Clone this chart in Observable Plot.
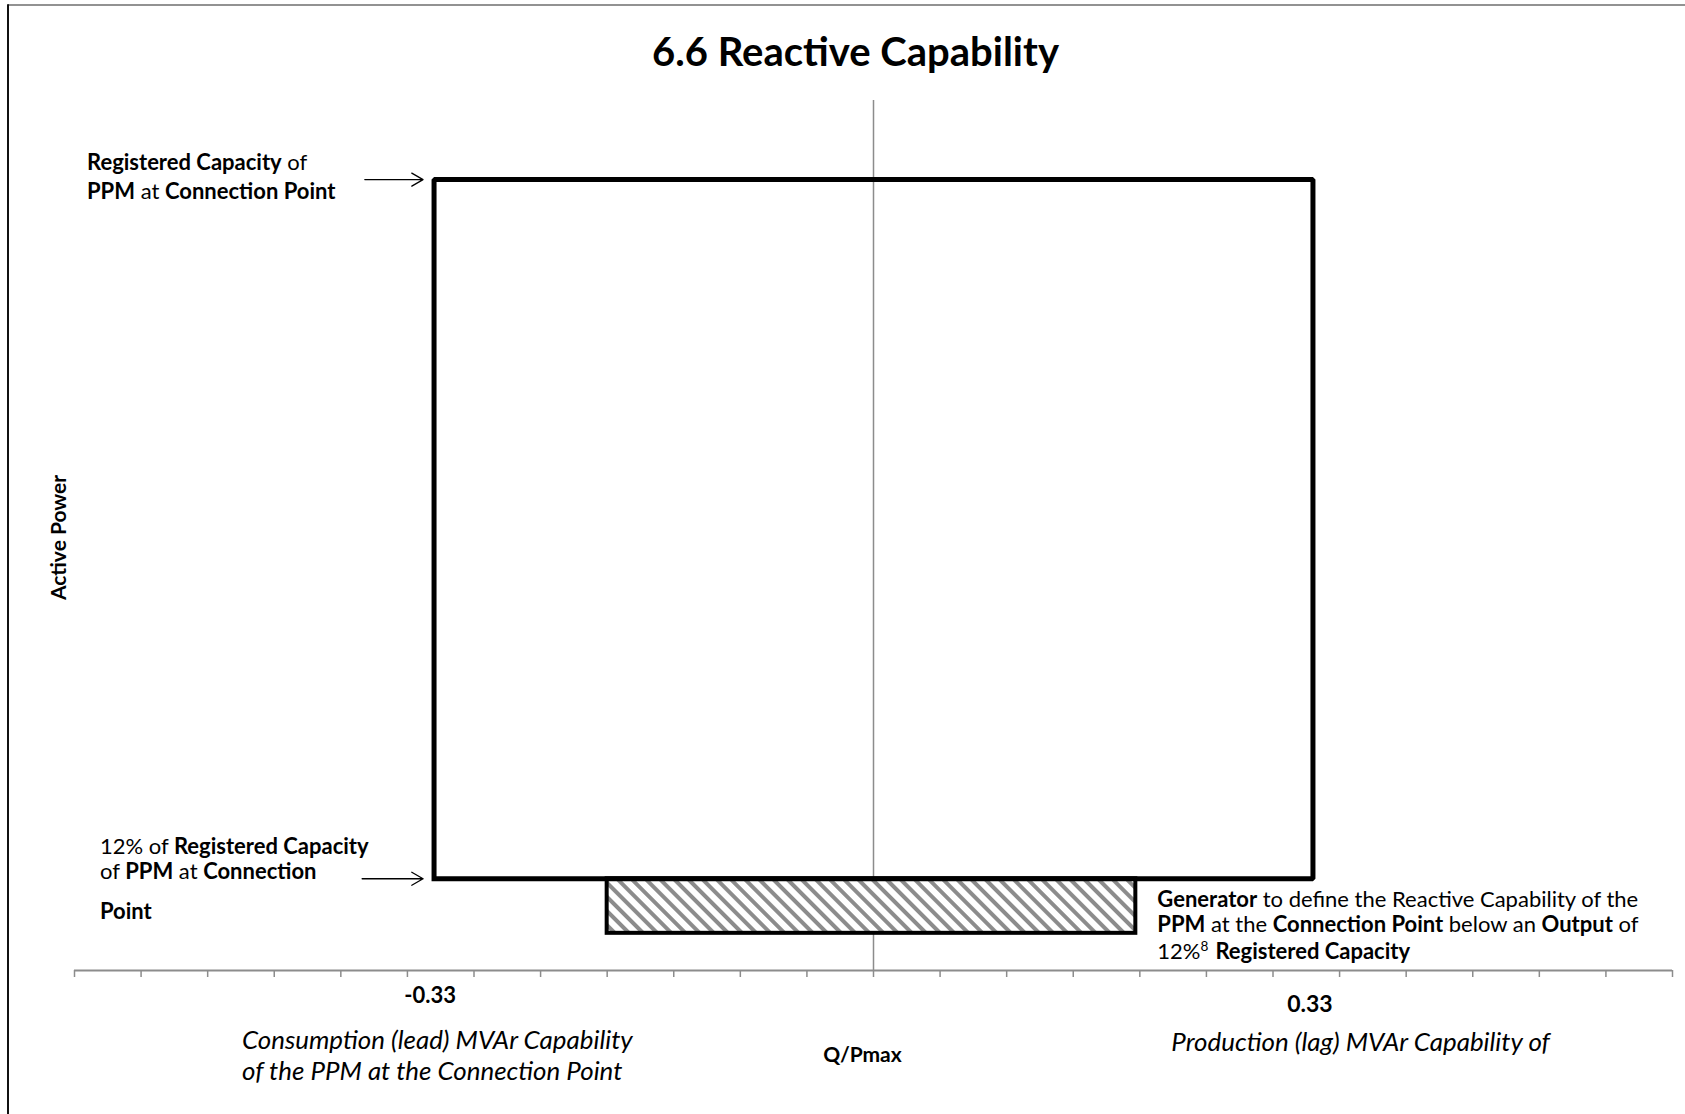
<!DOCTYPE html>
<html><head><meta charset="utf-8">
<script src="https://cdn.jsdelivr.net/npm/d3@7"></script>
<script src="https://cdn.jsdelivr.net/npm/@observablehq/plot@0.6"></script>
<style>body{margin:0;background:#fff;} svg{display:block}</style>
</head><body><div id="chart"></div>
<script>
const chartTitle = "6.6 Reactive Capability";
const xAxisTitle = "Q/Pmax";
const yAxisTitle = "Active Power";
const qDomain = [-0.6, 0.6];
const pDomain = [0, 1.1];
const qTicks = [-0.6,-0.55,-0.5,-0.45,-0.4,-0.35,-0.3,-0.25,-0.2,-0.15,-0.1,-0.05,0,0.05,0.1,0.15,0.2,0.25,0.3,0.35,0.4,0.45,0.5,0.55,0.6];
const envelopeQ = [-0.33, -0.33, 0.33, 0.33, -0.33];
const envelopeP = [0.116, 1.0, 1.0, 0.116, 0.116];
const hatchQ = [-0.2, 0.197];
const hatchP = [0.047, 0.116];
const limitQ = [-0.33, 0.33];
const limitLabels = ["-0.33", "0.33"];
const upperNote = ["**Registered Capacity** of", "**PPM** at **Connection Point**"];
const lowerNote = ["12% of **Registered Capacity**", "of **PPM** at **Connection**", "**Point**"];
const hatchNote = ["**Generator** to define the Reactive Capability of the", "**PPM** at the **Connection Point** below an **Output** of", "12%^8 **Registered Capacity**"];
const leadNote = ["Consumption (lead) MVAr Capability", "of the PPM at the Connection Point"];
const lagNote = ["Production (lag) MVAr Capability of"];

const FONT = "Lato, sans-serif";
const envelope = envelopeQ.map((q, i) => ({q, p: envelopeP[i]}));
const hatchRect = [{q1: hatchQ[0], q2: hatchQ[1], p1: hatchP[0], p2: hatchP[1]}];
const limits = limitQ.map((q, i) => ({q, label: limitLabels[i]}));

const plot = Plot.plot({
  width: 1685, height: 1114,
  marginTop: 100, marginBottom: 144, marginLeft: 74, marginRight: 13,
  style: {fontFamily: FONT, background: "#fff", color: "#000"},
  x: {domain: qDomain, label: null},
  y: {domain: pDomain, label: null, axis: null},
  marks: [
    Plot.ruleX([0], {stroke: "#8c8c8c", strokeWidth: 1.5}),
    Plot.rect(hatchRect, {x1: "q1", x2: "q2", y1: "p1", y2: "p2", fill: "url(#hatch)", stroke: "#000", strokeWidth: 4}),
    Plot.line(envelope, {x: "q", y: "p", stroke: "#000", strokeWidth: 5, strokeLinejoin: "miter", strokeLinecap: "square"}),
    Plot.ruleY([0], {stroke: "#8c8c8c", strokeWidth: 2}),
    Plot.axisX({ticks: qTicks, tickSize: 7, tickFormat: () => "", stroke: "#8c8c8c", strokeWidth: 1.5, label: null}),
    Plot.text(limits.slice(0, 1), {x: "q", y: () => 0, text: "label", dx: -4, dy: 25, fontSize: 22, fontWeight: "bold", fill: "#000"}),
    Plot.text(limits.slice(1), {x: "q", y: () => 0, text: "label", dx: -3, dy: 34, fontSize: 23, fontWeight: "bold", fill: "#000"}),
    Plot.text([xAxisTitle], {frameAnchor: "bottom", text: d => d, dx: -11, dy: 91.5, fontSize: 21, fontWeight: "bold", fill: "#000"}),
    Plot.text([yAxisTitle], {frameAnchor: "left", text: d => d, rotate: -90, textAnchor: "middle", dx: -15, dy: 2, fontSize: 21, fontWeight: "bold", fill: "#000"}),
    Plot.text([chartTitle], {frameAnchor: "top", text: d => d, dx: -18, dy: -63, fontSize: 40, fontWeight: "bold", fill: "#000"}),
    Plot.arrow([envelope[1]], {x1: d => d.q - 0.052, x2: "q", y1: "p", y2: "p", insetEnd: 11, stroke: "#000", strokeWidth: 1.3, headLength: 15, headAngle: 60}),
    Plot.arrow([envelope[0]], {x1: d => d.q - 0.054, x2: "q", y1: "p", y2: "p", insetEnd: 11, stroke: "#000", strokeWidth: 1.3, headLength: 15, headAngle: 60})
  ]
});

const svg = d3.select(plot);
const defs = svg.insert("defs", ":first-child");
const pat = defs.append("pattern").attr("id", "hatch").attr("patternUnits", "userSpaceOnUse")
  .attr("width", 10).attr("height", 10).attr("patternTransform", "rotate(-45)");
pat.append("rect").attr("width", 10).attr("height", 10).attr("fill", "#fff");
pat.append("line").attr("x1", 5).attr("x2", 5).attr("y1", -1).attr("y2", 11).attr("stroke", "#8c8c8c").attr("stroke-width", 4);

// page frame
svg.append("line").attr("x1", 8).attr("x2", 1685).attr("y1", 5).attr("y2", 5).attr("stroke", "#6e6e6e").attr("stroke-width", 1.5);
svg.append("line").attr("x1", 8).attr("x2", 8).attr("y1", 4.25).attr("y2", 1114).attr("stroke", "#111").attr("stroke-width", 2);

const sx = plot.scale("x").apply, sy = plot.scale("y").apply;

function rich(x, baselines, lines, size, italic) {
  const g = svg.append("g").attr("font-family", FONT).attr("font-size", size).attr("fill", "#000").attr("text-anchor", "start");
  lines.forEach((line, i) => {
    const t = g.append("text").attr("x", x).attr("y", baselines[i]);
    if (italic) t.attr("font-style", "italic");
    line.split(/(\*\*[^*]+\*\*|\^\d)/).filter(s => s.length).forEach(seg => {
      if (seg.startsWith("**")) t.append("tspan").attr("font-weight", "bold").text(seg.slice(2, -2));
      else if (seg.startsWith("^")) {
        t.append("tspan").attr("font-size", size * 0.62).attr("dy", -size * 0.38).text(seg.slice(1));
        t.append("tspan").attr("dy", size * 0.38).text("\u200a");
      } else t.append("tspan").text(seg);
    });
  });
}

const x0 = sx(qDomain[0]);
const pTop = sy(envelopeP[1]), pLow = sy(envelopeP[0]), p0 = sy(0);
rich(x0 + 13, [pTop - 9, pTop + 20], upperNote, 22, false);
rich(x0 + 26, [pLow - 24, pLow + 1, pLow + 41], lowerNote, 22, false);
rich(sx(hatchQ[1]) + 22, [pLow + 29, pLow + 54, pLow + 81], hatchNote, 22, false);
rich(x0 + 168, [p0 + 79, p0 + 110], leadNote, 25.9, true);
rich(sx(hatchQ[1]) + 36, [p0 + 81], lagNote, 25.9, true);

document.getElementById("chart").appendChild(plot);
</script></body></html>
